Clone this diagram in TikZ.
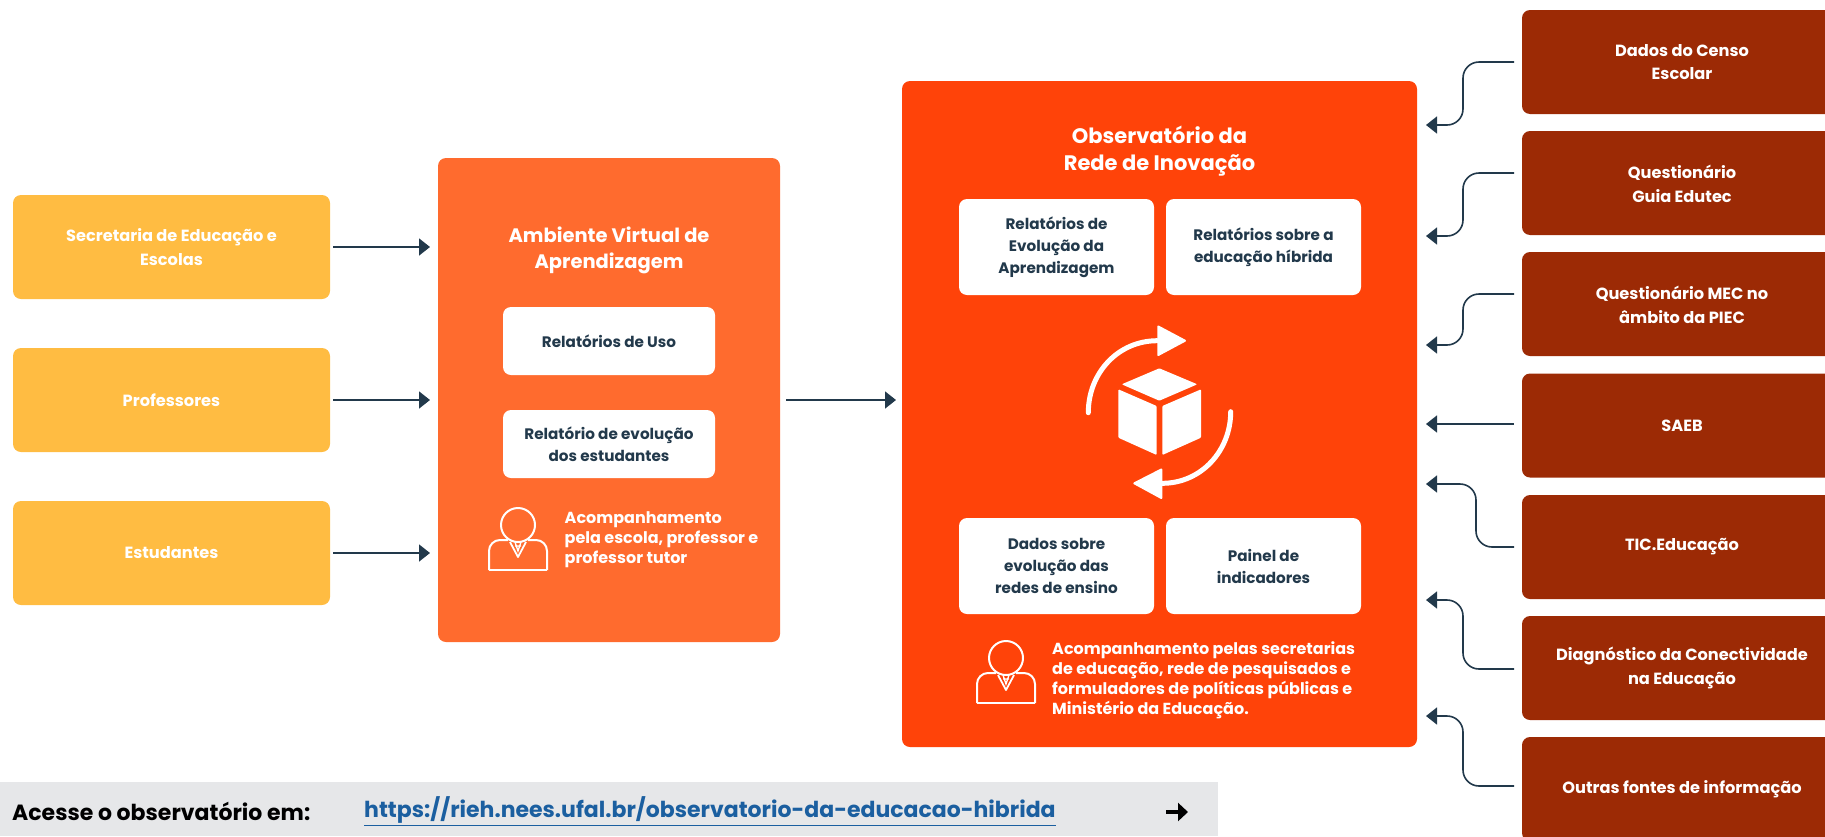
\documentclass[tikz,border=0pt]{standalone}
\usepackage{fontspec}
\setmainfont{Poppins}
\usetikzlibrary{arrows.meta}
\definecolor{ybox}{HTML}{FFBC42}
\definecolor{obox}{HTML}{FF6B2E}
\definecolor{rbox}{HTML}{FF4309}
\definecolor{dbox}{HTML}{9C2A05}
\definecolor{linec}{HTML}{22394B}
\definecolor{gbar}{HTML}{E6E7E9}
\definecolor{linkc}{HTML}{1B5FA0}
\tikzset{
 panel/.style={rounded corners=8pt,inner sep=0pt,outer sep=0pt,align=center,font=\fontsize{16.2}{23.5}\selectfont\bfseries,text=white},
 ybx/.style={panel,fill=ybox},
 dbx/.style={panel,fill=dbox},
 wbx/.style={panel,fill=white,text=linec,font=\fontsize{15.2}{22}\selectfont\bfseries},
 title/.style={align=center,text=white,inner sep=0pt,font=\fontsize{19.5}{26}\selectfont\bfseries},
 note/.style={align=left,anchor=west,text=white,inner sep=0pt,font=\fontsize{16}{20}\selectfont\bfseries},
 conn/.style={draw=linec,line width=1.6pt,-{Triangle[length=11pt,width=17pt]}},
 person/.pic={
  \draw[white,line width=2pt] (0,0) circle (17);
  \draw[white,line width=2pt,rounded corners=11pt] (-10,15) -- (-29,15) -- (-29,45);
  \draw[white,line width=2pt,rounded corners=11pt] (10,15) -- (29,15) -- (29,45);
  \draw[white,line width=2pt] (-29,45) -- (29,45);
  \draw[white,line width=1.8pt,line join=round] (-8,17) -- (0,32) -- (8,17);
  \draw[white,line width=1.3pt] (-3,17) -- (0,26) -- (3,17) (-3,21) -- (3,21);
 }
}
\newcommand{\bx}[6][]{\node[#2,minimum width=#5,minimum height=#6,#1] (#3) at (#4) {};}
\begin{document}
\begin{tikzpicture}[x=1pt,y=-1pt]
\useasboundingbox (0,0) rectangle (1825,836);
% left boxes
\node[ybx,minimum width=317pt,minimum height=104pt] (y1) at (171.5,247) {Secretaria de Educação e\\Escolas};
\node[ybx,minimum width=317pt,minimum height=104pt] (y2) at (171.5,400) {Professores};
\node[ybx,minimum width=317pt,minimum height=104pt] (y3) at (171.5,553) {Estudantes};
% panels
\node[panel,fill=obox,minimum width=342pt,minimum height=484pt] (amb) at (609,400) {};
\node[panel,fill=rbox,minimum width=515pt,minimum height=666pt] (obs) at (1159.5,414) {};
\node[title] (ambt) at (609,250) {Ambiente Virtual de\\Aprendizagem};
\node[title,font=\fontsize{21}{27}\selectfont\bfseries] (obst) at (1159.5,151) {Observatório da\\Rede de Inovação};
\node[wbx,minimum width=212pt,minimum height=68pt] (a1) at (609,341) {Relatórios de Uso};
\node[wbx,minimum width=212pt,minimum height=68pt] (a2) at (609,444) {Relatório de evolução\\dos estudantes};
\node[wbx,minimum width=195pt,minimum height=96pt] (o1) at (1056.5,247) {Relatórios de\\Evolução da\\Aprendizagem};
\node[wbx,minimum width=195pt,minimum height=96pt] (o2) at (1263.5,247) {Relatórios sobre a\\educação híbrida};
\node[wbx,minimum width=195pt,minimum height=96pt] (o3) at (1056.5,566) {Dados sobre\\evolução das\\redes de ensino};
\node[wbx,minimum width=195pt,minimum height=96pt] (o4) at (1263.5,566) {Painel de\\indicadores};
\pic at (518,525) {person};
\pic at (1006,658) {person};
\node[note] (an) at (564.5,540) {Acompanhamento\\pela escola, professor e\\professor tutor};
\node[note] (on) at (1052,680) {Acompanhamento pelas secretarias\\de educação, rede de pesquisados e\\formuladores de políticas públicas e\\Ministério da Educação.};
% cube
\fill[white,rounded corners=1pt] (1159.3,368.3) -- (1197.3,384.3) -- (1159.3,400.7) -- (1121.7,384.3) -- cycle;
\fill[white,rounded corners=1pt] (1118.3,389.3) -- (1156.7,406) -- (1156.7,455) -- (1118.3,437.7) -- cycle;
\fill[white,rounded corners=1pt] (1162.3,406) -- (1201,389.3) -- (1201,437.7) -- (1162.3,455) -- cycle;
\draw[white,line width=5pt,line cap=round] (1088.3,412.7) .. controls (1088.3,373) and (1118,340.7) .. (1157.3,340.7);
\fill[white,draw=white,line width=2pt,line join=round] (1158.3,326.5) -- (1185,340.7) -- (1158.3,355) -- cycle;
\draw[white,line width=5pt,line cap=round] (1230.7,411.7) .. controls (1230.7,451) and (1201,483.3) .. (1162.3,483.3);
\fill[white,draw=white,line width=2pt,line join=round] (1161.3,469.5) -- (1134.3,483.3) -- (1161.3,498) -- cycle;
% right boxes
\node[dbx,minimum width=320pt,minimum height=104pt] (r1) at (1682,62) {};
\node[dbx,minimum width=320pt,minimum height=104pt] (r2) at (1682,183) {};
\node[dbx,minimum width=320pt,minimum height=104pt] (r3) at (1682,304) {};
\node[dbx,minimum width=320pt,minimum height=104pt] (r4) at (1682,425.5) {};
\node[dbx,minimum width=320pt,minimum height=104pt] (r5) at (1682,547) {};
\node[dbx,minimum width=320pt,minimum height=104pt] (r6) at (1682,668) {};
\node[dbx,minimum width=320pt,minimum height=104pt] (r7) at (1682,789) {};
\node[text=white,align=center,font=\fontsize{16.2}{23.5}\selectfont\bfseries] (l1) at (1682,62) {Dados do Censo\\Escolar};
\node[text=white,align=center,font=\fontsize{16.2}{23.5}\selectfont\bfseries] (l2) at (1682,184) {Questionário\\Guia Edutec};
\node[text=white,align=center,font=\fontsize{16.2}{23.5}\selectfont\bfseries] (l3) at (1682,305) {Questionário MEC no\\âmbito da PIEC};
\node[text=white,align=center,font=\fontsize{16.2}{23.5}\selectfont\bfseries] (l4) at (1682,426) {SAEB};
\node[text=white,align=center,font=\fontsize{16.2}{23.5}\selectfont\bfseries] (l5) at (1682,547) {TIC.Educação};
\node[text=white,align=center,font=\fontsize{16.2}{23.5}\selectfont\bfseries] (l6) at (1682,668) {Diagnóstico da Conectividade\\na Educação};
\node[text=white,align=center,font=\fontsize{16.2}{23.5}\selectfont\bfseries] (l7) at (1682,789) {Outras fontes de informação};
% connectors
\draw[conn,shorten <=3pt,shorten >=8pt] (y1.east) -- (y1.east -| amb.west);
\draw[conn,shorten <=3pt,shorten >=8pt] (y2.east) -- (y2.east -| amb.west);
\draw[conn,shorten <=3pt,shorten >=8pt] (y3.east) -- (y3.east -| amb.west);
\draw[conn,shorten <=6pt,shorten >=6pt] (amb.east) -- (obs.west |- amb.east);
\coordinate (t1) at (1426,125);\coordinate (t2) at (1426,236);\coordinate (t3) at (1426,345);\coordinate (t4) at (1426,424);\coordinate (t5) at (1426,484);\coordinate (t6) at (1426,600);\coordinate (t7) at (1426,716);
\coordinate (s1) at (1514,62);\coordinate (s2) at (1514,173);\coordinate (s3) at (1514,294);\coordinate (s4) at (1514,424);\coordinate (s5) at (1514,547);\coordinate (s6) at (1514,669);\coordinate (s7) at (1514,786);
\draw[conn,rounded corners=16pt] (s1) -- (1463,62) -- (1463,125) -- (t1);
\draw[conn,rounded corners=16pt] (s2) -- (1463,173) -- (1463,236) -- (t2);
\draw[conn,rounded corners=16pt] (s3) -- (1463,294) -- (1463,345) -- (t3);
\draw[conn] (s4) -- (t4);
\draw[conn,rounded corners=16pt] (s5) -- (1476,547) -- (1476,484) -- (t5);
\draw[conn,rounded corners=16pt] (s6) -- (1463,669) -- (1463,600) -- (t6);
\draw[conn,rounded corners=16pt] (s7) -- (1463,786) -- (1463,716) -- (t7);
% bottom bar
\fill[gbar] (0,782) rectangle (1218,836);
\node[anchor=west,inner sep=0pt,text=black,font=\fontsize{22}{26}\selectfont\bfseries] (acc) at (12,811) {Acesse o observatório em:};
\node[anchor=west,inner sep=0pt,text=linkc,font=\fontsize{22}{26}\selectfont\bfseries] (lnk) at (364,811) {\underline{https://rieh.nees.ufal.br/observatorio-da-educacao-hibrida}};
\draw[black,line width=3.5pt,-{Triangle[length=10pt,width=18pt]}] (1166,812) -- (1188,812);
\end{tikzpicture}
\end{document}
